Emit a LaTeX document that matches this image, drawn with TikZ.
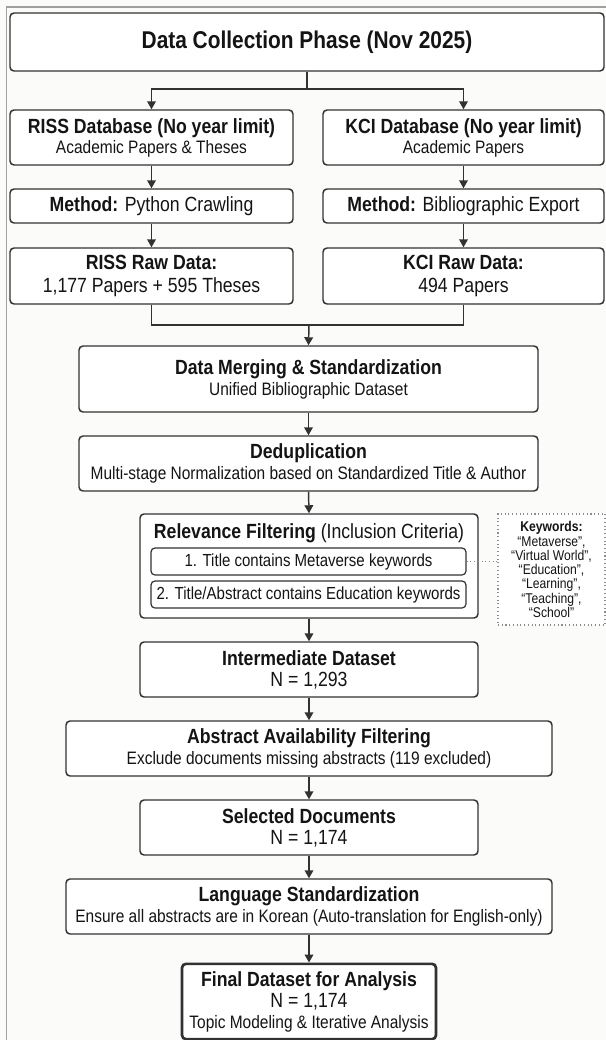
\documentclass[tikz,border=0pt]{standalone}
\usepackage{fontspec}
\setmainfont{Liberation Sans}[FakeStretch=0.86]
\usetikzlibrary{arrows.meta}

\definecolor{boxline}{RGB}{50,50,50}
\definecolor{txt}{RGB}{20,20,20}
\definecolor{pagebg}{RGB}{251,251,249}
\definecolor{framegray}{RGB}{160,160,160}
\definecolor{dotgray}{RGB}{140,140,140}

\newcommand{\ttl}{\fontsize{18.2}{20}\selectfont\bfseries}
\newcommand{\hd}{\fontsize{15.4}{15.75}\selectfont\bfseries}
\newcommand{\hn}{\fontsize{15.4}{15.75}\selectfont}
\newcommand{\sbt}{\fontsize{13.5}{15.75}\selectfont}
\newcommand{\crt}{\fontsize{13.1}{15}\selectfont}
\newcommand{\kwd}{\fontsize{10.6}{10.7}\selectfont}

\tikzset{every picture/.style={line width=0.75pt}}

\begin{document}
\begin{tikzpicture}[x=0.75pt,y=0.75pt,yscale=-1,xscale=1,
  box/.style={draw=boxline, line width=1.1pt, rounded corners=3pt, fill=white,
    text=txt, align=center, inner sep=0pt, font=\sbt},
  critbox/.style={box, line width=0.9pt, font=\crt},
  finalbox/.style={box, line width=2pt},
  kwbox/.style={draw=dotgray, dotted, line width=0.8pt, fill=white, text=txt,
    align=center, inner sep=0pt, font=\kwd},
  arr/.style={draw=boxline, line width=1.1pt, -{Triangle[width=6.5pt,length=6pt]}},
  link/.style={draw=boxline, line width=1.1pt}]

%page and frame
\useasboundingbox (0,0) rectangle (606,1040);
\fill[pagebg] (0,0) rectangle (606,1040);
\draw[framegray, line width=1.1pt] (6.5,1050) -- (6.5,7) -- (615,7);

%collection phase
\node[box, minimum width=445.5pt, minimum height=43.5pt] (phase) at (307,42) {\ttl Data Collection Phase (Nov 2025)};

%two sources
\node[box, minimum width=212.25pt, minimum height=41.25pt] (riss) at (151.5,137.5)
  {{\hd RISS Database (No year limit)}\\[-0.75pt]Academic Papers \& Theses};
\node[box, minimum width=210.75pt, minimum height=41.25pt] (kci) at (463.5,137.5)
  {{\hd KCI Database (No year limit)}\\[-0.75pt]Academic Papers};

\node[box, minimum width=212.25pt, minimum height=25.5pt] (rissm) at (151.5,206)
  {\hn\textbf{Method:} Python Crawling};
\node[box, minimum width=210.75pt, minimum height=25.5pt] (kcim) at (463.5,206)
  {\hn\textbf{Method:} Bibliographic Export};

\node[box, minimum width=212.25pt, minimum height=42pt] (rissraw) at (151.5,276)
  {{\hd RISS Raw Data:}\\[1.5pt]{\hn 1,177 Papers + 595 Theses}};
\node[box, minimum width=210.75pt, minimum height=42pt] (kciraw) at (463.5,276)
  {{\hd KCI Raw Data:}\\[1.5pt]{\hn 494 Papers}};

%main column
\node[box, minimum width=344.25pt, minimum height=49.5pt] (merge) at (308.5,379)
  {{\hd Data Merging \& Standardization}\\Unified Bibliographic Dataset};
\node[box, minimum width=344.25pt, minimum height=41.25pt] (dedup) at (308.5,463.5)
  {{\hd Deduplication}\\Multi-stage Normalization based on Standardized Title \& Author};

\node[box, minimum width=253.5pt, minimum height=78pt] (relev) at (309,566) {};
\node[text=txt, inner sep=0pt] (relevhd) at (309,533)
  {\hn\textbf{Relevance Filtering} (Inclusion Criteria)};
\node[critbox, minimum width=236.25pt, minimum height=20.25pt] (crit1) at (308.5,561.5)
  {1. Title contains Metaverse keywords};
\node[critbox, minimum width=236.25pt, minimum height=20.25pt] (crit2) at (308.5,594.5)
  {2. Title/Abstract contains Education keywords};

\node[kwbox, minimum width=80.25pt, minimum height=83.25pt] (keyw) at (551.5,569.5)
  {\textbf{Keywords:}\\``Metaverse'',\\``Virtual World'',\\``Education'',\\``Learning'',\\``Teaching'',\\``School''};

\node[box, minimum width=253.5pt, minimum height=41.25pt] (inter) at (309,669.5)
  {{\hd Intermediate Dataset}\\{\hn N = 1,293}};
\node[box, minimum width=364.5pt, minimum height=41.25pt] (abstr) at (309,748.5)
  {{\hd Abstract Availability Filtering}\\Exclude documents missing abstracts (119 excluded)};
\node[box, minimum width=253.5pt, minimum height=41.25pt] (selec) at (309,827.5)
  {{\hd Selected Documents}\\{\hn N = 1,174}};
\node[box, minimum width=364.5pt, minimum height=41.25pt] (lang) at (309,906.5)
  {{\hd Language Standardization}\\Ensure all abstracts are in Korean (Auto-translation for English-only)};
\node[finalbox, minimum width=190.5pt, minimum height=56.5pt] (final) at (309,1001.5)
  {{\hd Final Dataset for Analysis}\\{\hn N = 1,174}\\Topic Modeling \& Iterative Analysis};

%connectors
\coordinate (split) at (307,89);
\coordinate (join) at (309,325);
\draw[link] (phase.south) -- (split);
\draw[arr] (split) -| (riss.north);
\draw[arr] (split) -| (kci.north);
\draw[arr] (riss) -- (rissm);
\draw[arr] (kci) -- (kcim);
\draw[arr] (rissm) -- (rissraw);
\draw[arr] (kcim) -- (kciraw);
\draw[link] (rissraw.south) |- (join);
\draw[link] (kciraw.south) |- (join);
\draw[arr] (join) -- (merge.north);
\draw[arr] (merge) -- (dedup);
\draw[arr] (dedup.south) -- (relev.north);
\draw[arr] (relev.south) -- (inter.north);
\draw[arr] (inter) -- (abstr);
\draw[arr] (abstr) -- (selec);
\draw[arr] (selec) -- (lang);
\draw[arr] (lang) -- (final);
\draw[dotgray, dotted, line width=0.8pt] (crit1.east) -- (crit1.east -| keyw.west);

\end{tikzpicture}
\end{document}
